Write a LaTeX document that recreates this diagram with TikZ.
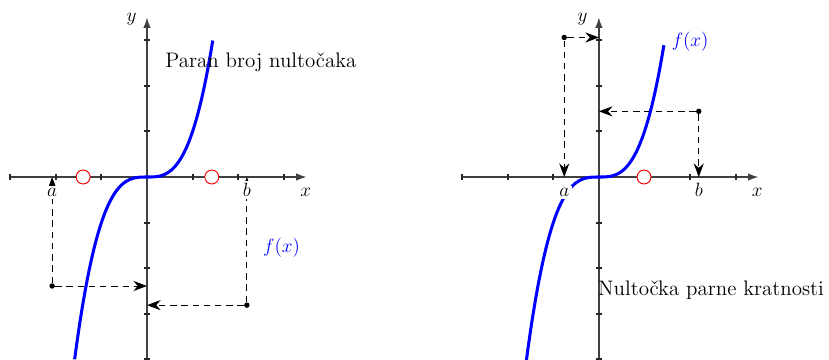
\documentclass[tikz,border=0pt]{standalone}
\usetikzlibrary{arrows.meta}
\tikzset{
  axisline/.style={draw=black!75, line width=0.9pt, -{Latex[length=6.5pt,width=4.6pt]}},
  tickmark/.style={draw=black!85, line width=1.2pt},
  curve/.style={draw=blue, line width=1.9pt},
  guide/.style={draw=black, dash pattern=on 4pt off 3pt, line width=0.6pt, -{Stealth[length=8.5pt,width=6.3pt]}},
  dotnode/.style={circle, fill=black, inner sep=0pt, minimum size=3.4pt},
  zero/.style={circle, draw=red, fill=white, line width=0.6pt, inner sep=0pt, minimum size=8.7pt},
  lbl/.style={font=\fontsize{13.1}{15}\selectfont, inner sep=1.5pt},
  wlbl/.style={lbl, fill=white},
}
\begin{document}
\begin{tikzpicture}
\useasboundingbox (-3.224,-3.991) rectangle (14.956,3.882);
% ---------------- left graph ----------------
\begin{scope}
  \coordinate (Lx0) at (-3,0); \coordinate (Lx1) at (3.5,0);
  \coordinate (Ly0) at (0,-4.1); \coordinate (Ly1) at (0,3.5);
  \draw[axisline] (Lx0) -- (Lx1);
  \draw[axisline] (Ly0) -- (Ly1);
  \foreach \i in {-3,-2,-1,1,2,3} \draw[tickmark] (\i,-0.07) -- (\i,0.07);
  \foreach \j in {-4,-3,-2,-1,1,2,3} \draw[tickmark] (-0.07,\j) -- (0.07,\j);
  \node[dotnode] (La) at (-2.08,-2.39) {};
  \coordinate (LaX) at (-2.08,0);
  \coordinate (LaY) at (0,-2.39);
  \node[dotnode] (Lb) at (2.19,-2.81) {};
  \coordinate (LbX) at (2.19,0);
  \coordinate (LbY) at (0,-2.81);
  \draw[guide] (La) -- (LaX);
  \draw[guide] (La) -- (LaY);
  \draw[guide] (Lb) -- (LbX);
  \draw[guide] (Lb) -- (LbY);
  \draw[curve] plot[domain=-1.587:1.442, samples=80, smooth] (\x,{\x*\x*\x});
  \node[zero] (Lz1) at (-1.40,0) {};
  \node[zero] (Lz2) at (1.42,0) {};
  \node[wlbl, anchor=base] (Lal) at (-2.08,-0.43) {$a$};
  \node[wlbl, anchor=base] (Lbl) at (2.19,-0.43) {$b$};
  \node[lbl, anchor=base] (Lxl) at (3.48,-0.43) {$x$};
  \node[lbl, anchor=base] (Lyl) at (-0.34,3.4) {$y$};
  \node[lbl, text=blue] (Lfl) at (2.95,-1.56) {$f(x)$};
  \node[lbl] (Ltxt) at (2.5,2.51) {Paran broj nultočaka};
\end{scope}
% ---------------- right graph ----------------
\begin{scope}[shift={(9.91,0)}]
  \coordinate (Rx0) at (-3,0); \coordinate (Rx1) at (3.5,0);
  \coordinate (Ry0) at (0,-4.1); \coordinate (Ry1) at (0,3.5);
  \draw[axisline] (Rx0) -- (Rx1);
  \draw[axisline] (Ry0) -- (Ry1);
  \foreach \i in {-3,-2,-1,1,2,3} \draw[tickmark] (\i,-0.07) -- (\i,0.07);
  \foreach \j in {-4,-3,-2,-1,1,2,3} \draw[tickmark] (-0.07,\j) -- (0.07,\j);
  \node[dotnode] (Ra) at (-0.76,3.06) {};
  \coordinate (RaX) at (-0.76,0);
  \coordinate (RaY) at (0,3.06);
  \node[dotnode] (Rb) at (2.19,1.44) {};
  \coordinate (RbX) at (2.19,0);
  \coordinate (RbY) at (0,1.44);
  \draw[guide] (Ra) -- (RaX);
  \draw[guide] (Ra) -- (RaY);
  \draw[guide] (Rb) -- (RbX);
  \draw[guide] (Rb) -- (RbY);
  \draw[curve] plot[domain=-1.6:1.425, samples=80, smooth] (\x,{\x*\x*\x});
  \node[zero] (Rz1) at (0.99,0) {};
  \node[wlbl, anchor=base] (Ral) at (-0.76,-0.43) {$a$};
  \node[wlbl, anchor=base] (Rbl) at (2.19,-0.43) {$b$};
  \node[lbl, anchor=base] (Rxl) at (3.47,-0.43) {$x$};
  \node[lbl, anchor=base] (Ryl) at (-0.36,3.4) {$y$};
  \node[lbl, text=blue] (Rfl) at (2.0,2.97) {$f(x)$};
  \node[lbl] (Rtxt) at (2.46,-2.48) {Nultočka parne kratnosti};
\end{scope}
\end{tikzpicture}
\end{document}
